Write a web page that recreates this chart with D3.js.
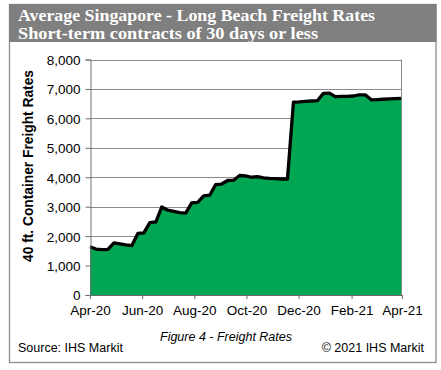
<!DOCTYPE html>
<html>
<head>
<meta charset="utf-8">
<script src="https://cdn.jsdelivr.net/npm/d3@7"></script>
<style>
  body { margin: 0; background: #fff; }
  svg { display: block; }
</style>
</head>
<body>
<div id="my_dataviz"></div>
<script>
// chart data (weekly, first week = 1 Apr 2020)
var firstWeek = "2020-04-01";
var freightRates = [
    1640, 1560, 1540, 1550, 1770, 1740, 1700, 1680, 2090, 2110,
    2460, 2480, 2990, 2880, 2840, 2800, 2780, 3130, 3150, 3370,
    3390, 3750, 3770, 3890, 3900, 4060, 4050, 4000, 4020, 3980,
    3960, 3950, 3940, 3940, 6550, 6560, 6580, 6590, 6600, 6850,
    6860, 6740, 6750, 6750, 6760, 6800, 6800, 6630, 6640, 6650,
    6660, 6670, 6680
];
var yTicks = [0, 1000, 2000, 3000, 4000, 5000, 6000, 7000, 8000];
var xTickDates = ["2020-04-01", "2020-06-01", "2020-08-01", "2020-10-01", "2020-12-01", "2021-02-01", "2021-04-01"];
var titleLines = ["Average Singapore - Long Beach Freight Rates", "Short-term contracts of 30 days or less"];

var svg;
var width = 441;
var height = 370;
var xScale;
var yScale;

document.addEventListener('DOMContentLoaded', function () {
    svg = d3.select("#my_dataviz")
        .append("svg")
        .attr("width", width)
        .attr("height", height);

    var parse = d3.timeParse("%Y-%m-%d");
    var start = parse(firstWeek);
    var data = freightRates.map((v, i) => ({ date: d3.timeDay.offset(start, 7 * i), value: v }));

    // outer frame + title bar
    svg.append("rect").attr("x", 9.5).attr("y", 4.5).attr("width", 426.5).attr("height", 358)
        .attr("fill", "#fff").attr("stroke", "#8c8c8c").attr("stroke-width", 1.3);
    svg.append("rect").attr("x", 9).attr("y", 4).attr("width", 427.5).attr("height", 38)
        .attr("fill", "#7f7f7f");

    svg.selectAll(".title").data(titleLines).enter().append("text")
        .attr("class", "title")
        .attr("x", 18)
        .attr("y", (d, i) => 21 + i * 18)
        .attr("textLength", (d, i) => i == 0 ? 357 : 300)
        .attr("lengthAdjust", "spacingAndGlyphs")
        .style("font-family", "'Liberation Serif', serif")
        .style("font-weight", "bold")
        .style("font-size", "16px")
        .attr("fill", "#fff")
        .text(d => d);

    xScale = d3.scaleTime()
        .domain([parse(xTickDates[0]), parse(xTickDates[xTickDates.length - 1])])
        .range([90, 402]);
    yScale = d3.scaleLinear()
        .domain([0, 8000])
        .range([295, 59.5]);

    // gridlines
    svg.append("g").selectAll("line").data(yTicks.slice(1)).enter().append("line")
        .attr("x1", 90).attr("x2", 402)
        .attr("y1", d => Math.round(yScale(d)) + 0.5).attr("y2", d => Math.round(yScale(d)) + 0.5)
        .attr("stroke", "#8a8a8a").attr("stroke-width", 1);
    svg.append("line").attr("x1", 401.5).attr("x2", 401.5)
        .attr("y1", yScale(8000)).attr("y2", yScale(0))
        .attr("stroke", "#8a8a8a");

    // area + line
    var area = d3.area()
        .x(d => xScale(d.date))
        .y0(yScale(0))
        .y1(d => yScale(d.value));
    var line = d3.line()
        .x(d => xScale(d.date))
        .y(d => yScale(d.value));

    svg.append("path").datum(data).attr("d", area).attr("fill", "#00a651");
    svg.append("path").datum(data).attr("d", line)
        .attr("fill", "none").attr("stroke", "#000").attr("stroke-width", 3.3)
        .attr("stroke-linejoin", "round");

    // axes
    var y_axis = svg.append("g").attr("transform", "translate(90.5,0)")
        .call(d3.axisLeft(yScale).tickValues(yTicks).tickSize(5).tickPadding(5).tickFormat(d3.format(",")));
    var x_axis = svg.append("g").attr("transform", "translate(0," + yScale(0) + ")")
        .call(d3.axisBottom(xScale).tickValues(xTickDates.map(parse)).tickSize(4).tickPadding(6)
            .tickFormat(d3.timeFormat("%b-%y")));

    [y_axis, x_axis].forEach(ax => {
        ax.select(".domain").attr("stroke", "#6e6e6e");
        ax.selectAll(".tick line").attr("stroke", "#6e6e6e");
        ax.selectAll("text").attr("fill", "#000")
            .style("font-family", "'Liberation Sans', Arial, sans-serif").style("font-size", "13.5px");
    });
    y_axis.selectAll("text").attr("dy", "0.36em");

    svg.append("text")
        .attr("transform", "translate(33,166) rotate(-90)")
        .style("text-anchor", "middle")
        .attr("textLength", 192)
        .attr("lengthAdjust", "spacingAndGlyphs")
        .style("font-family", "'Liberation Sans', Arial, sans-serif")
        .style("font-weight", "bold").style("font-size", "14px")
        .text("40 ft. Container Freight Rates");

    svg.append("text").attr("x", 226).attr("y", 340.5)
        .style("text-anchor", "middle")
        .style("font-family", "'Liberation Sans', Arial, sans-serif")
        .style("font-style", "italic").style("font-size", "12.5px")
        .text("Figure 4 - Freight Rates");
    svg.append("text").attr("x", 18).attr("y", 352)
        .style("font-family", "'Liberation Sans', Arial, sans-serif").style("font-size", "12.5px")
        .text("Source: IHS Markit");
    svg.append("text").attr("x", 424).attr("y", 352)
        .style("text-anchor", "end")
        .style("font-family", "'Liberation Sans', Arial, sans-serif").style("font-size", "12.5px")
        .text("\u00a9 2021 IHS Markit");
});
</script>
</body>
</html>
